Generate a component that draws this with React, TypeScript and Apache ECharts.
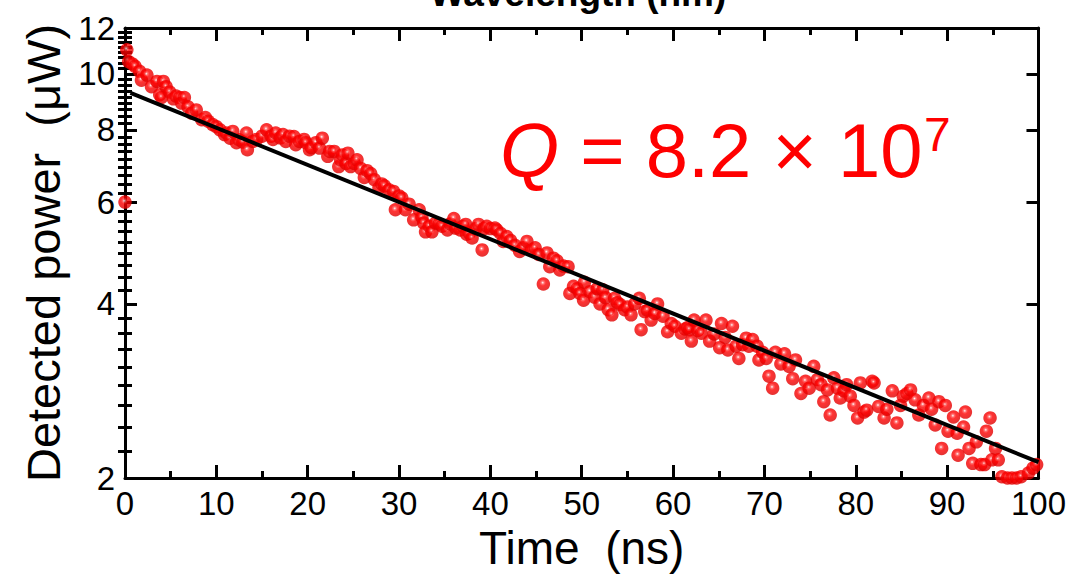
import React, { useEffect, useRef } from "react";
import * as echarts from "echarts";

// Measured decay (time in ns, detected power in µW)
const timeNs = [
  0.0, 0.2, 0.4, 0.8, 1.1, 1.6, 1.8, 2.4, 2.9, 3.5, 3.8, 4.0, 4.2, 4.5, 4.9, 5.3, 5.6, 6.0, 6.2, 6.5,
  6.9, 7.3, 7.8, 8.4, 8.8, 9.1, 9.6, 10.0, 10.4, 10.9, 11.1, 11.5, 11.8, 12.2, 12.5, 12.9, 13.3, 13.4, 14.0, 14.4,
  15.0, 15.5, 16.0, 16.2, 16.5, 17.0, 17.3, 17.6, 18.0, 18.5, 18.7, 19.1, 19.6, 19.8, 20.2, 20.4, 20.9, 21.3, 21.6, 22.2,
  22.4, 22.9, 23.4, 23.6, 23.8, 24.2, 24.4, 24.7, 25.1, 25.4, 25.8, 26.2, 26.5, 26.9, 27.3, 27.8, 28.1, 28.4, 28.9, 29.4,
  29.6, 30.0, 30.3, 30.7, 31.1, 31.6, 32.2, 32.5, 32.7, 32.9, 33.3, 33.6, 34.0, 34.4, 34.7, 35.3, 35.6, 36.0, 36.2, 36.7,
  37.0, 37.3, 37.4, 37.7, 38.0, 38.4, 38.7, 39.1, 39.3, 39.6, 40.0, 40.5, 40.7, 41.1, 41.4, 41.8, 42.2, 42.7, 43.2, 43.6,
  44.0, 44.5, 44.9, 45.3, 45.8, 46.2, 46.5, 46.9, 47.3, 47.6, 48.0, 48.5, 48.7, 49.1, 49.5, 49.8, 50.2, 50.3, 50.9, 51.4,
  51.7, 52.0, 52.3, 52.6, 52.9, 53.3, 53.6, 53.9, 54.2, 54.7, 55.0, 55.4, 55.8, 56.3, 56.5, 56.9, 57.2, 57.6, 58.0, 58.3,
  58.9, 59.4, 59.8, 60.2, 60.9, 61.3, 61.6, 61.8, 62.0, 62.3, 62.7, 63.1, 63.6, 64.0, 64.5, 65.1, 65.3, 65.7, 66.0, 66.5,
  66.9, 67.2, 67.6, 68.0, 68.3, 68.7, 69.2, 69.4, 69.8, 70.2, 70.5, 70.9, 71.2, 71.8, 72.2, 72.7, 73.1, 73.4, 74.0, 74.5,
  74.9, 75.4, 75.8, 76.2, 76.5, 76.9, 77.2, 77.6, 78.0, 78.3, 78.7, 79.0, 79.4, 79.8, 80.2, 80.5, 80.9, 81.2, 81.8, 82.0,
  82.5, 83.1, 83.4, 84.0, 84.5, 84.9, 85.2, 85.6, 86.0, 86.5, 86.9, 87.4, 88.0, 88.3, 88.7, 89.1, 89.4, 89.8, 90.1, 90.7,
  91.1, 91.2, 91.8, 92.0, 92.4, 92.8, 93.2, 93.7, 94.1, 94.3, 94.7, 94.9, 95.3, 95.6, 96.0, 96.6, 97.1, 97.6, 98.1, 98.9,
  99.4, 99.8,
];
const powerUW = [
  6.0, 11.0, 10.5, 10.4, 10.3, 10.1, 9.75, 9.95, 9.5, 9.7, 9.2, 9.1, 9.7, 9.5, 9.3, 9.05, 9.15, 9.1, 8.9, 9.1,
  8.77, 8.55, 8.66, 8.33, 8.4, 8.28, 8.17, 8.1, 8.0, 7.85, 7.9, 7.74, 7.95, 7.6, 7.69, 7.62, 7.9, 7.39, 7.64, 7.7,
  7.8, 8.0, 7.8, 7.7, 7.9, 7.75, 7.85, 7.64, 7.8, 7.79, 7.54, 7.64, 7.7, 7.6, 7.39, 7.45, 7.6, 7.44, 7.74, 7.2,
  7.34, 7.34, 6.91, 7.1, 7.24, 7.0, 7.29, 6.91, 7.0, 7.1, 6.86, 6.62, 6.8, 6.72, 6.56, 6.35, 6.45, 6.4, 6.3, 6.26,
  5.82, 6.15, 6.1, 5.82, 5.95, 5.59, 5.82, 5.65, 5.52, 5.33, 5.45, 5.33, 5.52, 5.5, 5.45, 5.37, 5.5, 5.62, 5.41, 5.37,
  5.45, 5.49, 5.28, 5.3, 5.2, 5.4, 5.49, 4.96, 5.4, 5.45, 5.4, 5.41, 5.37, 5.3, 5.13, 5.23, 5.15, 5.05, 4.93, 5.0,
  5.13, 4.96, 5.0, 4.87, 4.33, 4.9, 4.64, 4.8, 4.75, 4.58, 4.65, 4.64, 4.17, 4.29, 4.25, 4.17, 4.06, 4.36, 4.2, 4.11,
  4.25, 4.0, 4.23, 4.1, 3.91, 3.83, 4.09, 4.02, 3.99, 3.91, 3.95, 3.83, 4.0, 4.09, 3.61, 3.88, 3.9, 3.75, 3.85, 4.0,
  3.81, 3.58, 3.7, 3.66, 3.56, 3.62, 3.64, 3.61, 3.45, 3.75, 3.6, 3.56, 3.75, 3.45, 3.55, 3.36, 3.7, 3.5, 3.33, 3.66,
  3.38, 3.22, 3.4, 3.49, 3.38, 3.47, 3.38, 3.2, 3.3, 3.22, 3.0, 2.86, 3.3, 3.15, 3.28, 3.12, 2.97, 3.2, 2.8, 2.94,
  2.86, 3.12, 2.96, 2.9, 2.71, 2.84, 2.57, 2.98, 2.86, 2.75, 2.83, 2.9, 2.77, 2.67, 2.54, 2.92, 2.6, 2.62, 2.94, 2.92,
  2.66, 2.54, 2.63, 2.83, 2.49, 2.67, 2.77, 2.8, 2.84, 2.73, 2.57, 2.67, 2.75, 2.63, 2.47, 2.71, 2.25, 2.67, 2.41, 2.55,
  2.39, 2.19, 2.45, 2.6, 2.25, 2.12, 2.31, 2.11, 2.11, 2.41, 2.54, 2.15, 2.25, 2.15, 2.01, 2.0, 2.0, 2.0, 2.01, 2.04,
  2.08, 2.11,
];

// Single-exponential fit
const fitTime = [0.6, 100];
const fitPower = [9.27, 2.13];

const xTickLabels = [0, 10, 20, 30, 40, 50, 60, 70, 80, 90, 100];
const yTickLabels = [2, 4, 6, 8, 10, 12];

const FONT = '"Liberation Sans", Arial, Helvetica, sans-serif';

export default function App() {
  const ref = useRef<HTMLDivElement>(null);

  useEffect(() => {
    if (!ref.current) return;
    const chart = echarts.init(ref.current, null, { renderer: "svg" });

    const yMinor: number[] = [];
    for (let i = 0; i < yTickLabels.length - 1; i++) {
      const a = yTickLabels[i];
      const b = yTickLabels[i + 1];
      for (let k = 1; k <= 8; k++) yMinor.push(a + ((b - a) * k) / 9);
    }

    const axisLine = { show: true, onZero: false, lineStyle: { color: "#000", width: 3 } };
    const tickStyle = { color: "#000", width: 3 };

    const xCommon = {
      type: "value",
      min: xTickLabels[0],
      max: xTickLabels[xTickLabels.length - 1],
      interval: 10,
      axisLine,
      axisTick: { show: true, inside: true, length: 13, lineStyle: tickStyle },
      minorTick: { show: true, splitNumber: 2, length: 7, lineStyle: tickStyle },
      splitLine: { show: false },
      minorSplitLine: { show: false },
    };

    const yCommon = {
      type: "log",
      logBase: 10,
      min: yTickLabels[0],
      max: yTickLabels[yTickLabels.length - 1],
      splitLine: { show: false },
      minorTick: { show: false },
      minorSplitLine: { show: false },
    };

    const data = timeNs.map((t, i) => [t, powerUW[i]]);
    const fitData = fitTime.map((t, i) => [t, fitPower[i]]);

    chart.setOption({
      animation: false,
      backgroundColor: "#fff",
      grid: { left: 125, right: 27, top: 28, bottom: 98, containLabel: false },
      xAxis: [
        {
          ...xCommon,
          position: "bottom",
          axisLabel: { fontSize: 33, color: "#000", fontFamily: FONT, margin: 9 },
          name: "Time  (ns)",
          nameLocation: "middle",
          nameGap: 44,
          nameTextStyle: { fontSize: 46, color: "#000", fontFamily: FONT, verticalAlign: "top" },
        },
        { ...xCommon, position: "top", axisLabel: { show: false } },
      ],
      yAxis: [
        {
          ...yCommon,
          position: "left",
          axisLine,
          axisTick: { show: true, inside: true, length: 12, customValues: yTickLabels, lineStyle: tickStyle },
          axisLabel: {
            customValues: yTickLabels,
            fontSize: 33,
            color: "#000",
            fontFamily: FONT,
            margin: 10,
            formatter: (v: number) => String(Math.round(v)),
          },
          name: "Detected power  (μW)",
          nameLocation: "middle",
          nameGap: 54,
          nameTextStyle: { fontSize: 47, color: "#000", fontFamily: FONT },
        },
        {
          ...yCommon,
          position: "left",
          axisLine: { show: false },
          axisTick: { show: true, inside: true, length: 7, customValues: yMinor, lineStyle: tickStyle },
          axisLabel: { show: false },
        },
        {
          ...yCommon,
          position: "right",
          axisLine,
          axisTick: { show: true, inside: true, length: 12, customValues: yTickLabels, lineStyle: tickStyle },
          axisLabel: { show: false },
        },
        {
          ...yCommon,
          position: "right",
          axisLine: { show: false },
          axisTick: { show: true, inside: true, length: 7, customValues: yMinor, lineStyle: tickStyle },
          axisLabel: { show: false },
        },
      ],
      series: [
        {
          type: "scatter",
          xAxisIndex: 0,
          yAxisIndex: 0,
          symbolSize: 13.5,
          data,
          z: 2,
          itemStyle: {
            color: {
              type: "radial",
              x: 0.45,
              y: 0.4,
              r: 0.6,
              colorStops: [
                { offset: 0, color: "#ffffff" },
                { offset: 0.18, color: "#ff5050" },
                { offset: 0.4, color: "#ff0000" },
                { offset: 1, color: "#dd0000" },
              ],
            },
          },
        },
        {
          type: "line",
          xAxisIndex: 0,
          yAxisIndex: 0,
          data: fitData,
          symbol: "none",
          z: 3,
          lineStyle: { color: "#000", width: 4 },
        },
      ],
      graphic: [
        {
          type: "text",
          x: 578,
          y: 12,
          style: {
            text: "Wavelength (nm)",
            fontSize: 37,
            fontWeight: "bold",
            fontFamily: FONT,
            fill: "#000",
            align: "center",
            verticalAlign: "bottom",
          },
        },
        {
          type: "text",
          x: 500,
          y: 150,
          style: {
            text: "{i|Q} = 8.2 × 10",
            fontSize: 76,
            fontFamily: FONT,
            fill: "#ff0000",
            align: "left",
            verticalAlign: "middle",
            rich: {
              i: { fontStyle: "italic", fontSize: 76, fontFamily: FONT, fill: "#ff0000" },
            },
          },
        },
        {
          type: "text",
          x: 924,
          y: 134,
          style: {
            text: "7",
            fontSize: 48,
            fontFamily: FONT,
            fill: "#ff0000",
            align: "left",
            verticalAlign: "middle",
          },
        },
      ],
    });

    return () => chart.dispose();
  }, []);

  return (
    <div
      ref={ref}
      style={{ position: "absolute", left: 0, top: 0, width: 1069, height: 576, background: "#fff" }}
    />
  );
}
